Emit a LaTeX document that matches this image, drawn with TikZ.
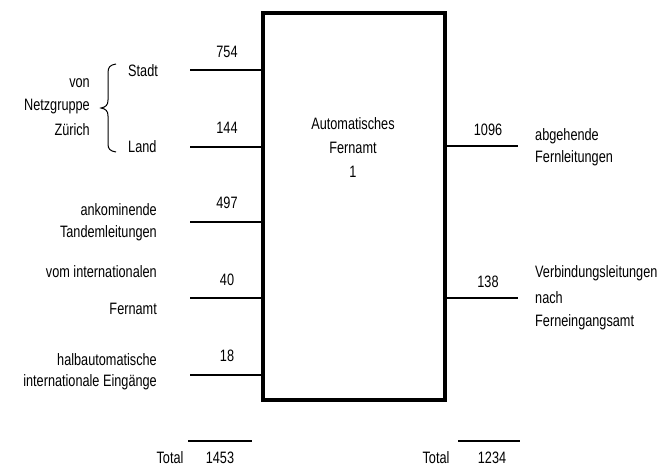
\documentclass[tikz,border=0pt]{standalone}
\usepackage{fontspec}
\setmainfont{Liberation Sans}[FakeStretch=0.77]
\begin{document}
\begin{tikzpicture}[x=1pt,y=-1pt,
  lbl/.style={inner sep=0pt,font=\fontsize{16.5}{20}\selectfont},
  lblr/.style={lbl,anchor=east},
  lbll/.style={lbl,anchor=west},
  num/.style={lbl,anchor=center},
  tot/.style={lbl,anchor=base},
  conn/.style={line width=1.6pt},
  mainbox/.style={draw,line width=4pt,minimum width=182pt,minimum height=387pt,inner sep=0pt}]
\useasboundingbox (0,0) rectangle (669,466);
% main box
\node[mainbox] (box) at (354,206.5) {};
\node[num] (t1) at (353,124) {Automatisches};
\node[num] (t2) at (353,148) {Fernamt};
\node[num] (t3) at (353,172) {1};
% input ends
\coordinate (i1) at (190,70);
\coordinate (i2) at (190,147);
\coordinate (i3) at (190,222);
\coordinate (i4) at (190,298);
\coordinate (i5) at (190,375);
\foreach \c in {i1,i2,i3,i4,i5} \draw[conn] (\c) -- (\c -| box.west);
% output ends
\coordinate (o1) at (518,146);
\coordinate (o2) at (518,298);
\foreach \c in {o1,o2} \draw[conn] (\c -| box.east) -- (\c);
% numbers
\node[num] (n1) at (227,52) {754};
\node[num] (n2) at (227,128) {144};
\node[num] (n3) at (227,203) {497};
\node[num] (n4) at (227,280) {40};
\node[num] (n5) at (227,356) {18};
\node[num] (n6) at (488,130) {1096};
\node[num] (n7) at (488,282) {138};
% left labels
\node[lbll] (stadt) at (128,71) {Stadt};
\node[lbll] (land) at (128,147) {Land};
\node[lblr] (von) at (90,83) {von};
\node[lblr] (netz) at (90,107) {Netzgruppe};
\node[lblr] (zur) at (90,130) {Zürich};
\draw[line width=1pt] (116,64) .. controls (110,65) and (108,67) .. (108,73) -- (108,100)
  .. controls (108,105) and (106,107) .. (101,108)
  .. controls (106,109) and (108,111) .. (108,116) -- (108,144)
  .. controls (108,149) and (110,151) .. (116,152);
\node[lblr] (ank) at (157,210) {ankominende};
\node[lblr] (tand) at (157,233) {Tandemleitungen};
\node[lblr] (vom) at (157,272) {vom internationalen};
\node[lblr] (fern) at (157,309) {Fernamt};
\node[lblr] (halb) at (157,360) {halbautomatische};
\node[lblr] (intl) at (157,382) {internationale Eingänge};
% right labels
\node[lbll] (abg) at (535,136) {abgehende};
\node[lbll] (fl) at (535,158) {Fernleitungen};
\node[lbll] (verb) at (535,273) {Verbindungsleitungen};
\node[lbll] (nach) at (535,298) {nach};
\node[lbll] (fea) at (535,322) {Ferneingangsamt};
% totals
\coordinate (tl1) at (188,441);
\coordinate (tl2) at (252,441);
\coordinate (tr1) at (458,441);
\coordinate (tr2) at (520,441);
\draw[conn] (tl1) -- (tl2);
\draw[conn] (tr1) -- (tr2);
\node[tot] (totl) at (170,463) {Total};
\node[tot] (suml) at (220,463) {1453};
\node[tot] (totr) at (436,463) {Total};
\node[tot] (sumr) at (492,463) {1234};
\end{tikzpicture}
\end{document}
